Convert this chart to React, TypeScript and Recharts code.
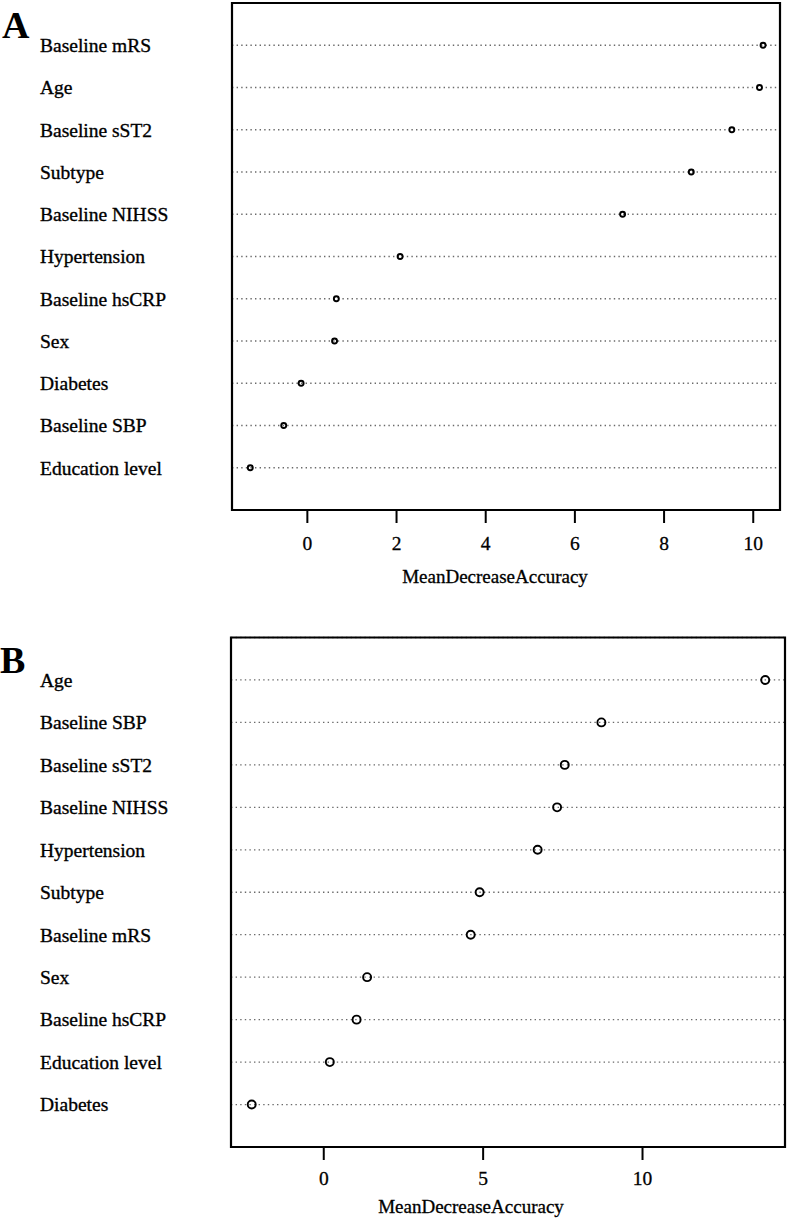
import { ScatterChart, Scatter, XAxis, YAxis, CartesianGrid, ReferenceArea, Label } from "recharts";

// Panel A – variables ordered top to bottom as in the figure
const featuresA = [
  "Baseline mRS",
  "Age",
  "Baseline sST2",
  "Subtype",
  "Baseline NIHSS",
  "Hypertension",
  "Baseline hsCRP",
  "Sex",
  "Diabetes",
  "Baseline SBP",
  "Education level",
];
const valuesA = [10.22, 10.14, 9.52, 8.61, 7.07, 2.08, 0.65, 0.61, -0.14, -0.53, -1.28];
const ticksA = [0, 2, 4, 6, 8, 10];

// Panel B
const featuresB = [
  "Age",
  "Baseline SBP",
  "Baseline sST2",
  "Baseline NIHSS",
  "Hypertension",
  "Subtype",
  "Baseline mRS",
  "Sex",
  "Baseline hsCRP",
  "Education level",
  "Diabetes",
];
const valuesB = [13.85, 8.71, 7.56, 7.32, 6.71, 4.89, 4.61, 1.36, 1.03, 0.19, -2.26];
const ticksB = [0, 5, 10];

const FONT = '"Liberation Serif", "Times New Roman", serif';

type PanelProps = {
  features: string[];
  values: number[];
  ticks: number[];
  domain: [number, number];
  top: number;
  height: number;
  margin: { top: number; right: number; bottom: number; left: number };
  yWidth: number;
  radius: number;
  tickMargin: number;
  titleOffset: number;
  titleDx: number;
};

function DotPanel(p: PanelProps) {
  const n = p.features.length;
  const data = p.features.map((name, i) => ({ name, value: p.values[i], pos: n - i }));
  const rowTicks = p.features.map((_, i) => i + 1);

  const renderTick = (props: any) => {
    const label = p.features[n - props.payload.value];
    return (
      <text
        x={40}
        y={props.y}
        dy="0.35em"
        textAnchor="start"
        fontSize={19.5}
        fill="#000"
        stroke="#000"
        strokeWidth={0.35}
        fontFamily={FONT}
      >
        {label}
      </text>
    );
  };

  return (
    <div style={{ position: "absolute", left: 0, top: p.top }}>
      <ScatterChart width={787} height={p.height} margin={p.margin}>
        <CartesianGrid
          horizontal
          vertical={false}
          stroke="#6a6a6a"
          strokeWidth={1.3}
          strokeDasharray="1.4 3.2"
        />
        <XAxis
          type="number"
          dataKey="value"
          domain={p.domain}
          ticks={p.ticks}
          allowDataOverflow
          axisLine={false}
          tickSize={13}
          tickMargin={p.tickMargin}
          tickLine={{ stroke: "#000", strokeWidth: 2 }}
          tick={{ fontSize: 19.5, fill: "#000", stroke: "#000", strokeWidth: 0.3, fontFamily: FONT }}
          height={90}
        >
          <Label
            value="MeanDecreaseAccuracy"
            position="insideTop"
            offset={p.titleOffset}
            dx={p.titleDx}
            fontSize={19}
            fill="#000"
            stroke="#000"
            strokeWidth={0.3}
            fontFamily={FONT}
          />
        </XAxis>
        <YAxis
          type="number"
          dataKey="pos"
          domain={[0, n + 1]}
          ticks={rowTicks}
          width={p.yWidth}
          axisLine={false}
          tickLine={false}
          tick={renderTick}
        />
        <ReferenceArea
          x1={p.domain[0]}
          x2={p.domain[1]}
          y1={0}
          y2={n + 1}
          fill="none"
          fillOpacity={0}
          stroke="#000"
          strokeWidth={2.2}
        />
        <Scatter
          data={data}
          isAnimationActive={false}
          shape={(s: any) => (
            <circle cx={s.cx} cy={s.cy} r={p.radius} fill="none" stroke="#000" strokeWidth={1.9} />
          )}
        />
      </ScatterChart>
    </div>
  );
}

export default function App() {
  return (
    <div
      style={{
        position: "absolute",
        left: 0,
        top: 0,
        width: 787,
        height: 1219,
        background: "#fff",
        fontFamily: FONT,
        overflow: "hidden",
      }}
    >
      <div style={{ position: "absolute", left: 2, top: 6, fontSize: 38, lineHeight: "38px", fontWeight: 700 }}>A</div>
      <DotPanel
        features={featuresA}
        values={valuesA}
        ticks={ticksA}
        domain={[-1.69, 10.6]}
        top={0}
        height={600}
        margin={{ top: 3, right: 7, bottom: 0, left: 0 }}
        yWidth={232}
        radius={2.5}
        tickMargin={13}
        titleOffset={60}
        titleDx={-11}
      />
      <div style={{ position: "absolute", left: 0, top: 641, fontSize: 38, lineHeight: "38px", fontWeight: 700 }}>B</div>
      <DotPanel
        features={featuresB}
        values={valuesB}
        ticks={ticksB}
        domain={[-2.91, 14.47]}
        top={600}
        height={37.5 + 509.5 + 90}
        margin={{ top: 37.5, right: 2, bottom: 0, left: 0 }}
        yWidth={231}
        radius={4}
        tickMargin={11}
        titleOffset={53}
        titleDx={-37}
      />
    </div>
  );
}
